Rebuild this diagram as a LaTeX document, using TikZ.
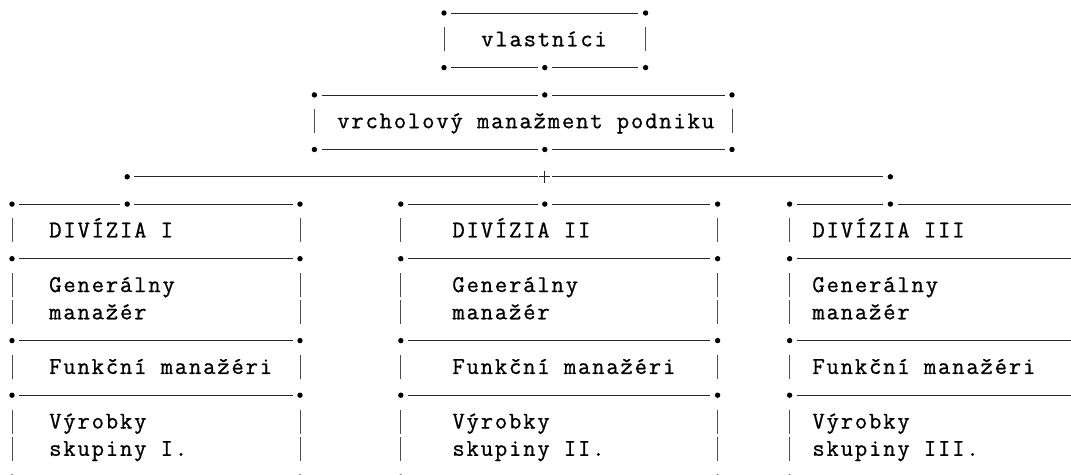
\documentclass[tikz,border=0pt]{standalone}
\usepackage{fontspec}
\newfontfamily\monofam[LetterSpace=7.5,FakeBold=0.8]{Latin Modern Mono}
\tikzset{
  ln/.style={line width=0.8pt, draw=black!85},
  barln/.style={line width=0.9pt, draw=black!70},
  txt/.style={inner sep=0pt, outer sep=0pt, anchor=base west, font=\monofam\fontsize{24}{27}\selectfont},
}
% grid: column c -> x = 12 + 14.4 c ; row r -> y = 13 + 27.3 r (downwards)
\newcommand\myline[3]{\draw[ln] ({12+14.4*#2+7.2},{13+27.3*#1}) -- ({12+14.4*#3-7.2},{13+27.3*#1});}
\newcommand\myedge[2]{\draw[ln] ({12+14.4*#2+7.2},{13+27.3*#1}) -- (1080,{13+27.3*#1});}
\newcommand\mydot[2]{\fill[black] ({12+14.4*#2},{13+27.3*#1}) circle (2.7pt);}
\newcommand\mybar[2]{\draw[barln] ({12+14.4*#2},{13+27.3*#1-13}) -- ({12+14.4*#2},{13+27.3*#1+11});}
\newcommand\mytext[4]{\node[txt] (#1) at ({12+14.4*#3-7.2+1.2},{13+27.3*#2+6}) {#4};}
\begin{document}
\begin{tikzpicture}[x=1pt,y=-1pt]
\useasboundingbox (0,0) rectangle (1071,474);
\clip (0,0) rectangle (1071,474);
% owners box
\mydot{0}{30}\mydot{0}{44}\myline{0}{30}{44}
\mybar{1}{30}\mybar{1}{44}
\mytext{own}{1}{33}{vlastníci}
\mydot{2}{30}\mydot{2}{37}\mydot{2}{44}\myline{2}{30}{37}\myline{2}{37}{44}
% top management box
\foreach \r in {3,5}{\mydot{\r}{21}\mydot{\r}{37}\mydot{\r}{50}\myline{\r}{21}{37}\myline{\r}{37}{50}}
\mybar{4}{21}\mybar{4}{50}
\mytext{top}{4}{23}{vrcholový manažment podniku}
% connector row
\mydot{6}{8}\mydot{6}{61}
\myline{6}{8}{37}\myline{6}{37}{61}
\coordinate (plus) at ({12+14.4*37},{13+27.3*6});
\draw[ln] ([xshift=-5.5pt]plus) -- ([xshift=5.5pt]plus);
\draw[ln] ([yshift=-6pt]plus) -- ([yshift=6pt]plus);
% division top row
\foreach \c in {0,8,20,27,37,49,54,61}{\mydot{7}{\c}}
\myline{7}{0}{8}\myline{7}{8}{20}\myline{7}{27}{37}\myline{7}{37}{49}\myline{7}{54}{61}\myedge{7}{61}
% separator rows
\foreach \r in {9,12,14,17}{
  \foreach \c in {0,20,27,49,54}{\mydot{\r}{\c}}
  \myline{\r}{0}{20}\myline{\r}{27}{49}\myedge{\r}{54}
}
% vertical bars
\foreach \r in {8,10,11,13,15,16}{
  \foreach \c in {0,20,27,49,54}{\mybar{\r}{\c}}
}
% texts
\mytext{d1}{8}{3}{DIVÍZIA I}
\mytext{d2}{8}{31}{DIVÍZIA II}
\mytext{d3}{8}{56}{DIVÍZIA III}
\mytext{g1a}{10}{3}{Generálny}
\mytext{g2a}{10}{31}{Generálny}
\mytext{g3a}{10}{56}{Generálny}
\mytext{g1b}{11}{3}{manažér}
\mytext{g2b}{11}{31}{manažér}
\mytext{g3b}{11}{56}{manažér}
\mytext{f1}{13}{3}{Funkční manažéri}
\mytext{f2}{13}{31}{Funkční manažéri}
\mytext{f3}{13}{56}{Funkční manažéri}
\mytext{v1a}{15}{3}{Výrobky}
\mytext{v2a}{15}{31}{Výrobky}
\mytext{v3a}{15}{56}{Výrobky}
\mytext{v1b}{16}{3}{skupiny I.}
\mytext{v2b}{16}{31}{skupiny II.}
\mytext{v3b}{16}{56}{skupiny III.}
\end{tikzpicture}
\end{document}
